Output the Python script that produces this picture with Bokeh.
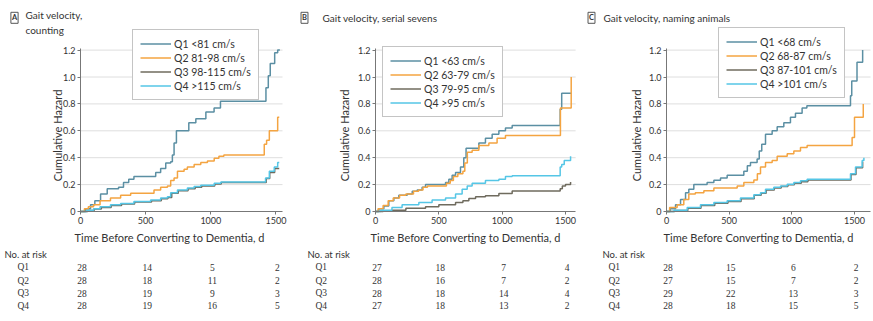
import math
from bokeh.plotting import figure
from bokeh.models import (Range1d, FixedTicker, CustomJSTickFormatter, Legend, LegendItem,
                          Label, LabelSet, ColumnDataSource)
from bokeh.layouts import row
from bokeh.embed import file_html
from bokeh.resources import INLINE

FONT = "Lato"
TXT = "#333333"
AXC = "#777777"

# ---------------- data ----------------
x_ticks = [0, 500, 1000, 1500]
y_ticks = [0, 0.2, 0.4, 0.6, 0.8, 1.0, 1.2]
grid_ticks = [0.2, 0.4, 0.6, 0.8, 1.0, 1.2]
quartiles = ["Q1", "Q2", "Q3", "Q4"]
colors = ["#5b8fa3", "#f4a441", "#6f6b5e", "#55c6e6"]
X_LABEL = "Time Before Converting to Dementia, d"
Y_LABEL = "Cumulative Hazard"
RISK_TITLE = "No. at risk"

# Panel A: counting
a_title = ["Gait velocity,", "counting"]
a_labels = ["Q1 <81 cm/s", "Q2 81-98 cm/s", "Q3 98-115 cm/s", "Q4 >115 cm/s"]
a_q1_t = [0, 40, 77, 110, 154, 205, 292, 330, 370, 410, 577, 615, 654, 692, 705, 718, 736, 831, 885, 962, 1025, 1074, 1423, 1441, 1456, 1490, 1513, 1530]
a_q1_h = [0, 0.02, 0.05, 0.08, 0.13, 0.17, 0.18, 0.215, 0.24, 0.26, 0.29, 0.32, 0.36, 0.37, 0.42, 0.51, 0.60, 0.66, 0.69, 0.74, 0.77, 0.82, 0.92, 1.01, 1.10, 1.18, 1.2, 1.2]
a_q2_t = [0, 30, 60, 100, 150, 230, 308, 385, 564, 615, 667, 692, 718, 744, 795, 820, 872, 923, 974, 1026, 1062, 1100, 1410, 1428, 1449, 1513, 1525]
a_q2_h = [0, 0.02, 0.035, 0.05, 0.08, 0.10, 0.12, 0.135, 0.16, 0.18, 0.19, 0.23, 0.25, 0.30, 0.315, 0.33, 0.35, 0.365, 0.375, 0.395, 0.41, 0.42, 0.50, 0.53, 0.60, 0.70, 0.70]
a_q3_t = [0, 55, 105, 160, 235, 315, 415, 545, 620, 670, 700, 750, 825, 880, 930, 1030, 1080, 1425, 1452, 1490, 1525]
a_q3_h = [0, 0.008, 0.018, 0.03, 0.045, 0.055, 0.07, 0.08, 0.095, 0.105, 0.135, 0.155, 0.17, 0.18, 0.19, 0.205, 0.215, 0.245, 0.29, 0.32, 0.32]
a_q4_t = [0, 50, 100, 150, 230, 308, 410, 538, 615, 667, 692, 744, 820, 872, 923, 1026, 1077, 1420, 1449, 1487, 1513, 1525]
a_q4_h = [0, 0.01, 0.02, 0.035, 0.05, 0.06, 0.075, 0.085, 0.10, 0.11, 0.14, 0.16, 0.175, 0.185, 0.195, 0.21, 0.22, 0.25, 0.30, 0.33, 0.365, 0.365]
a_risk = [[28, 14, 5, 2], [28, 18, 11, 2], [28, 19, 9, 3], [28, 19, 16, 5]]

# Panel B: serial sevens
b_title = ["Gait velocity, serial sevens"]
b_labels = ["Q1 <63 cm/s", "Q2 63-79 cm/s", "Q3 79-95 cm/s", "Q4 >95 cm/s"]
b_q1_t = [0, 26, 66, 105, 145, 184, 250, 290, 329, 368, 395, 553, 579, 605, 632, 671, 697, 715, 816, 868, 921, 974, 1026, 1079, 1458, 1470, 1545]
b_q1_h = [0, 0.02, 0.04, 0.08, 0.10, 0.12, 0.13, 0.15, 0.16, 0.18, 0.20, 0.215, 0.24, 0.27, 0.29, 0.33, 0.40, 0.47, 0.51, 0.545, 0.575, 0.60, 0.62, 0.64, 0.76, 0.88, 0.88]
b_q2_t = [0, 20, 60, 100, 140, 190, 240, 300, 340, 375, 410, 560, 590, 615, 650, 690, 705, 725, 763, 816, 895, 960, 1026, 1460, 1545]
b_q2_h = [0, 0.02, 0.045, 0.08, 0.10, 0.12, 0.13, 0.15, 0.16, 0.18, 0.19, 0.21, 0.23, 0.26, 0.28, 0.30, 0.36, 0.44, 0.455, 0.49, 0.51, 0.545, 0.565, 0.77, 1.0]
b_q3_t = [0, 60, 130, 240, 395, 500, 632, 690, 737, 790, 868, 974, 1079, 1458, 1475, 1500, 1540]
b_q3_h = [0, 0.005, 0.01, 0.025, 0.035, 0.05, 0.067, 0.08, 0.097, 0.11, 0.117, 0.134, 0.152, 0.17, 0.19, 0.20, 0.22]
b_q4_t = [0, 40, 130, 210, 342, 447, 553, 632, 684, 724, 763, 868, 974, 1026, 1079, 1458, 1470, 1490, 1540]
b_q4_h = [0, 0.01, 0.03, 0.05, 0.067, 0.085, 0.10, 0.13, 0.165, 0.19, 0.21, 0.23, 0.24, 0.26, 0.265, 0.33, 0.35, 0.38, 0.41]
b_risk = [[27, 18, 7, 4], [28, 16, 7, 2], [28, 18, 14, 4], [27, 18, 13, 2]]

# Panel C: naming animals
c_title = ["Gait velocity, naming animals"]
c_labels = ["Q1 <68 cm/s", "Q2 68-87 cm/s", "Q3 87-101 cm/s", "Q4 >101 cm/s"]
c_q1_t = [0, 30, 72, 112, 152, 178, 218, 324, 378, 431, 484, 617, 645, 670, 723, 740, 760, 790, 843, 883, 936, 989, 1029, 1082, 1120, 1468, 1478, 1520, 1565]
c_q1_h = [0, 0.02, 0.05, 0.09, 0.14, 0.165, 0.20, 0.215, 0.233, 0.25, 0.27, 0.30, 0.34, 0.365, 0.39, 0.45, 0.50, 0.575, 0.60, 0.63, 0.66, 0.70, 0.73, 0.77, 0.786, 0.86, 0.97, 1.11, 1.2]
c_q2_t = [0, 25, 85, 138, 178, 230, 298, 378, 564, 617, 697, 725, 750, 790, 843, 883, 963, 1016, 1069, 1122, 1481, 1500, 1570]
c_q2_h = [0, 0.03, 0.05, 0.09, 0.13, 0.14, 0.155, 0.175, 0.19, 0.215, 0.235, 0.28, 0.33, 0.365, 0.38, 0.41, 0.43, 0.45, 0.475, 0.49, 0.55, 0.70, 0.80]
c_q3_t = [0, 65, 170, 275, 385, 490, 595, 700, 755, 795, 860, 915, 968, 1020, 1075, 1128, 1472, 1512, 1565]
c_q3_h = [0, 0.008, 0.025, 0.045, 0.062, 0.075, 0.095, 0.12, 0.135, 0.16, 0.175, 0.185, 0.198, 0.21, 0.222, 0.235, 0.275, 0.325, 0.37]
c_q4_t = [0, 60, 165, 271, 378, 484, 590, 697, 750, 790, 856, 910, 963, 1016, 1069, 1122, 1468, 1508, 1561, 1575]
c_q4_h = [0, 0.01, 0.03, 0.05, 0.067, 0.08, 0.10, 0.124, 0.14, 0.166, 0.18, 0.19, 0.203, 0.216, 0.228, 0.24, 0.28, 0.33, 0.38, 0.40]
c_risk = [[28, 15, 6, 2], [27, 15, 7, 2], [29, 22, 13, 3], [28, 18, 15, 5]]

# ---------------- layout (page pixels) ----------------
H = 321
Y0 = 211          # page y of hazard 0
YS = 134.5        # px per hazard unit
Y_TOP = 1.21      # end of y axis
ROWS_PY = [266.7, 280, 292.7, 305]


def make_panel(fig_left, width, x0_page, xs, x_axis_end, letter, title_lines, labels, curves,
               risk, letter_px, title_px, leg_px, leg_bottom_py, xlab_px, ylab_px,
               nar_px, q_px):
    ox = x0_page - fig_left
    xr = Range1d(-ox / xs, (width - ox) / xs)
    yr = Range1d(-(H - Y0) / YS, Y0 / YS)
    p = figure(width=width, height=H, x_range=xr, y_range=yr, output_backend="svg",
               toolbar_location=None, min_border=0, min_border_left=0, min_border_right=0,
               min_border_top=0, min_border_bottom=0)
    p.outline_line_color = None
    p.background_fill_color = "white"
    p.border_fill_color = "white"
    p.grid.visible = False

    def sx(px):
        return px - fig_left

    def sy(py):
        return H - py

    # horizontal grid lines, over the axis extent
    p.segment(x0=[0] * len(grid_ticks), x1=[x_axis_end] * len(grid_ticks),
              y0=grid_ticks, y1=grid_ticks, line_color="#dedede", line_width=1)

    for ax, ticks in ((p.xaxis[0], x_ticks), (p.yaxis[0], y_ticks)):
        ax.ticker = FixedTicker(ticks=ticks)
        ax.fixed_location = 0
        ax.axis_line_color = AXC
        ax.major_tick_line_color = AXC
        ax.major_tick_out = 3
        ax.major_tick_in = 0
        ax.minor_tick_line_color = None
        ax.major_label_text_font = FONT
        ax.major_label_text_font_size = "9px"
        ax.major_label_text_color = TXT
        ax.major_label_standoff = 2
    p.xaxis[0].bounds = (0, x_axis_end)
    p.yaxis[0].bounds = (0, Y_TOP)
    p.yaxis[0].formatter = CustomJSTickFormatter(code="return tick == 0 ? '0' : tick.toFixed(1);")

    rends = []
    for (t, h), c in zip(curves, colors):
        rends.append(p.step(t, h, mode="after", line_color=c, line_width=1.5))

    legend = Legend(items=[LegendItem(label=l, renderers=[r]) for l, r in zip(labels, rends)],
                    location=(sx(leg_px), sy(leg_bottom_py)),
                    border_line_color="#8a8a8a", border_line_width=1,
                    background_fill_color="white", background_fill_alpha=1.0,
                    label_text_font=FONT, label_text_font_size="10.5px", label_text_color=TXT,
                    glyph_width=31, glyph_height=13, label_height=13, label_standoff=3,
                    spacing=1, padding=7, margin=0)
    p.add_layout(legend)

    def lab(px, py, text, size="10px", **kw):
        kw.setdefault("text_baseline", "middle")
        p.add_layout(Label(x=sx(px), y=sy(py), x_units="screen", y_units="screen", text=text,
                           text_font=FONT, text_font_size=size, text_color=TXT, **kw))

    # panel letter in a box and title
    lab(letter_px, 17.3, letter, size="7.5px", text_font_style="bold", text_align="center",
        border_line_color="#555555", background_fill_color="white", padding=1)
    if len(title_lines) == 1:
        lab(title_px, 17.5, title_lines[0])
    else:
        lab(title_px, 14.3, title_lines[0])
        lab(title_px, 29.5, title_lines[1])

    # axis titles
    lab(xlab_px, 236.5, X_LABEL, size="11px", text_align="center")
    lab(ylab_px, 135, Y_LABEL, size="11px", text_align="center", angle=math.pi / 2)

    # number-at-risk table
    lab(nar_px, 253.5, RISK_TITLE, size="9.5px")
    xs_, ys_, txt = [], [], []
    for counts, py in zip(risk, ROWS_PY):
        for xv, n in zip(x_ticks, counts):
            xs_.append(xv)
            ys_.append(sy(py))
            txt.append(str(n))
    src = ColumnDataSource(dict(x=xs_, y=ys_, text=txt))
    p.add_layout(LabelSet(x="x", y="y", text="text", source=src, y_units="screen",
                          x_offset=1.5, text_align="center", text_baseline="middle",
                          text_font=FONT, text_font_size="9.5px", text_color=TXT))
    qsrc = ColumnDataSource(dict(x=[sx(q_px)] * 4, y=[sy(py) for py in ROWS_PY], text=quartiles))
    p.add_layout(LabelSet(x="x", y="y", text="text", source=qsrc, x_units="screen",
                          y_units="screen", text_align="left", text_baseline="middle",
                          text_font=FONT, text_font_size="9.5px", text_color=TXT))
    return p


pA = make_panel(0, 290, 80, 202 / 1550, 1550, "A", a_title, a_labels,
                [(a_q1_t, a_q1_h), (a_q2_t, a_q2_h), (a_q3_t, a_q3_h), (a_q4_t, a_q4_h)],
                a_risk, letter_px=14, title_px=25, leg_px=132, leg_bottom_py=100,
                xlab_px=169, ylab_px=57, nar_px=4, q_px=17)
pB = make_panel(290, 290, 375, 190 / 1500, 1580, "B", b_title, b_labels,
                [(b_q1_t, b_q1_h), (b_q2_t, b_q2_h), (b_q3_t, b_q3_h), (b_q4_t, b_q4_h)],
                b_risk, letter_px=304, title_px=322, leg_px=382, leg_bottom_py=117,
                xlab_px=465, ylab_px=344, nar_px=307, q_px=315)
pC = make_panel(580, 293, 666, 188 / 1500, 1628, "C", c_title, c_labels,
                [(c_q1_t, c_q1_h), (c_q2_t, c_q2_h), (c_q3_t, c_q3_h), (c_q4_t, c_q4_h)],
                c_risk, letter_px=591, title_px=603, leg_px=718, leg_bottom_py=98,
                xlab_px=758, ylab_px=636, nar_px=602, q_px=608)

layout = row(pA, pB, pC, spacing=0)
open("out.html", "w").write(file_html(layout, INLINE))
